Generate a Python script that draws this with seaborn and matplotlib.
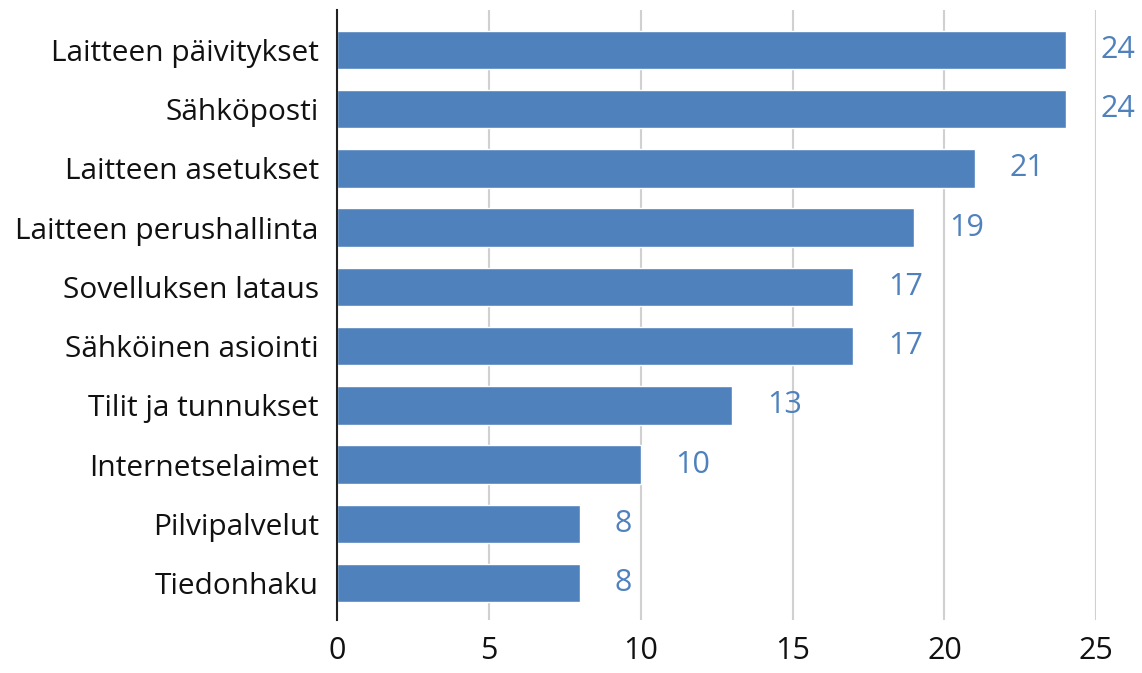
import matplotlib
matplotlib.use("Agg")
import matplotlib.pyplot as plt
import seaborn as sns
import pandas as pd

categories = [
    "Laitteen päivitykset",
    "Sähköposti",
    "Laitteen asetukset",
    "Laitteen perushallinta",
    "Sovelluksen lataus",
    "Sähköinen asiointi",
    "Tilit ja tunnukset",
    "Internetselaimet",
    "Pilvipalvelut",
    "Tiedonhaku",
]
values = [24, 24, 21, 19, 17, 17, 13, 10, 8, 8]
x_ticks = [0, 5, 10, 15, 20, 25]

bar_color = "#4F81BD"
label_color = "#4F81BD"

sns.set_theme(style="white")
plt.rcParams["font.family"] = ["Open Sans", "DejaVu Sans"]

df = pd.DataFrame({"category": categories, "value": values})

fig = plt.figure(figsize=(11.42, 6.73), dpi=100)
ax = fig.add_axes([0.295, 0.079, 0.665, 0.906])

sns.barplot(data=df, x="value", y="category", color=bar_color,
            saturation=1, width=0.65, ax=ax, zorder=3)

for i, v in enumerate(values):
    ax.text(v + 1.15, i, str(v), va="center", ha="left",
            fontsize=22, color=label_color)

ax.set_xlim(0, 25)
ax.set_ylim(9.62, -0.67)
ax.set_xticks(x_ticks)
ax.set_xlabel("")
ax.set_ylabel("")
ax.xaxis.grid(True, color="#D0D0D0", linewidth=1.5, zorder=0)
ax.tick_params(axis="x", labelsize=22, colors="#111111", length=0, pad=12)
ax.tick_params(axis="y", labelsize=21.5, colors="#111111", length=0, pad=13)
for side in ["top", "right", "bottom"]:
    ax.spines[side].set_visible(False)
ax.spines["left"].set_color("#222222")
ax.spines["left"].set_linewidth(1.5)
ax.spines["left"].set_zorder(5)

fig.savefig("out.png", dpi=100)
